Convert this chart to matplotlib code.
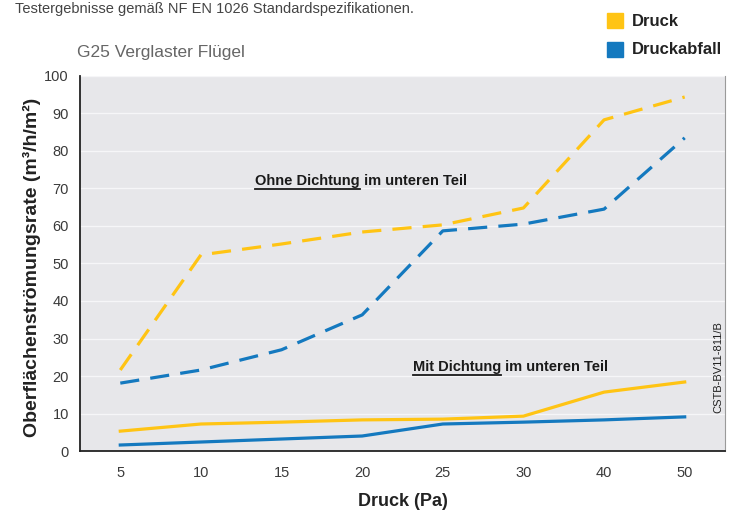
import matplotlib
matplotlib.use("Agg")
import matplotlib.pyplot as plt

categories = ["5", "10", "15", "20", "25", "30", "40", "50"]
ohne_druck = [21.6, 52.3, 55.2, 58.4, 60.3, 64.8, 88.3, 94.4]
ohne_abfall = [18.1, 21.6, 27.0, 36.3, 58.7, 60.5, 64.5, 83.5]
mit_druck = [5.3, 7.2, 7.7, 8.3, 8.5, 9.3, 15.7, 18.4]
mit_abfall = [1.6, 2.4, 3.2, 4.0, 7.2, 7.7, 8.3, 9.1]
yticks = [0, 10, 20, 30, 40, 50, 60, 70, 80, 90, 100]

YELLOW = "#FFC414"
BLUE = "#1479BF"

plt.rcParams["font.family"] = ["Liberation Sans", "DejaVu Sans"]

fig = plt.figure(figsize=(7.31, 5.11), dpi=100)
ax = fig.add_axes([0.1094, 0.1174, 0.8824, 0.7339])
ax.set_facecolor("#e7e7ea")

x = list(range(len(categories)))
ax.plot(x, ohne_druck, color=YELLOW, lw=2.3, dashes=(6, 3.5))
ax.plot(x, ohne_abfall, color=BLUE, lw=2.3, dashes=(6, 3.5))
ax.plot(x, mit_druck, color=YELLOW, lw=2.3)
ax.plot(x, mit_abfall, color=BLUE, lw=2.3)

ax.set_xlim(-0.5, 7.5)
ax.set_ylim(0, 100)
ax.set_xticks(x)
ax.set_xticklabels(categories)
ax.set_yticks(yticks)
ax.tick_params(axis="both", length=0, labelsize=10.5, colors="#3a3a3a", pad=8)
ax.tick_params(axis="x", pad=11)
ax.yaxis.grid(True, color="#f6f6f8", lw=1)
ax.set_axisbelow(True)
for s in ["left", "bottom"]:
    ax.spines[s].set_color("#222222")
    ax.spines[s].set_linewidth(1.3)
ax.spines["right"].set_color("#9a9a9a")
ax.spines["top"].set_visible(False)

ax.set_ylabel("Oberflächenströmungsrate (m³/h/m²)", fontsize=14, fontweight="bold",
              color="#222222", labelpad=1)
ax.yaxis.set_label_coords(-0.06, 0.49)
ax.set_xlabel("Druck (Pa)", fontsize=13, fontweight="bold", color="#222222", labelpad=9)

t1a = ax.text(1.67, 72, "Ohne Dichtung", fontsize=10.5, fontweight="bold", color="#1a1a1a", va="center")
t2a = ax.text(3.63, 22.4, "Mit Dichtung", fontsize=10.5, fontweight="bold", color="#1a1a1a", va="center")

fig.canvas.draw()
r = fig.canvas.get_renderer()
inv = ax.transData.inverted()
for t, rest in [(t1a, " im unteren Teil"), (t2a, " im unteren Teil")]:
    bb = t.get_window_extent(r)
    (x0, y0), (x1, y1) = inv.transform([(bb.x0, bb.y0), (bb.x1, bb.y1)])
    ax.plot([x0, x1], [y0 - 0.3, y0 - 0.3], color="#1a1a1a", lw=1.3)
    ax.text(x1, t.get_position()[1], rest, fontsize=10.5, fontweight="bold",
            color="#1a1a1a", va="center")

ax.text(7.42, 22.5, "CSTB-BV11-811/B", rotation=90, fontsize=8, color="#222222",
        ha="center", va="center")

fig.text(15 / 731, 1 - 9 / 511, "Testergebnisse gemäß NF EN 1026 Standardspezifikationen.",
         fontsize=10.5, color="#444444", va="center", ha="left",
         family=["Liberation Sans Narrow", "Liberation Sans"])
fig.text(0.105, 0.898, "G25 Verglaster Flügel", fontsize=12.5, color="#666666", va="center")

fig.patches.append(plt.Rectangle((607 / 731, 1 - 28 / 511), 16 / 731, 15 / 511,
                                 transform=fig.transFigure, color=YELLOW))
fig.patches.append(plt.Rectangle((607 / 731, 1 - 57 / 511), 16 / 731, 15 / 511,
                                 transform=fig.transFigure, color=BLUE))
fig.text(632 / 731, 1 - 21 / 511, "Druck", fontsize=12, fontweight="bold", color="#222222", va="center")
fig.text(632 / 731, 1 - 50 / 511, "Druckabfall", fontsize=12, fontweight="bold", color="#222222", va="center")

fig.savefig("out.png", dpi=100, facecolor="white")
